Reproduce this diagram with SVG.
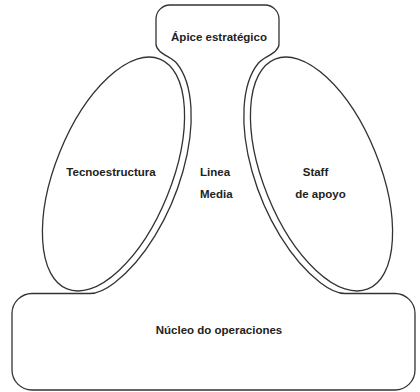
<svg xmlns="http://www.w3.org/2000/svg" width="420" height="392" viewBox="0 0 420 392">
  <style>
    .shape { fill: none; stroke: #333; stroke-width: 1.3; }
    .lbl { font-family: "Liberation Sans", Arial, sans-serif; font-weight: bold; font-size: 11.5px; fill: #222; }
    .c { text-anchor: middle; }
  </style>
  <rect width="420" height="392" fill="#fff"/>
  <g id="contorno">
    <path class="shape" d="M156,44 V19 A14,14 0 0 1 170,5 H265 A14,14 0 0 1 279,19 V44 C279,53 263.6,56.8 258.5,63 A65,131 -22 0 0 320.4,282.7 C326.8,287.6 335,293.5 345,293.5 H395 A20,20 0 0 1 415,313.5 V370 A20,20 0 0 1 395,390 H32 A20,20 0 0 1 12,370 V313.5 A20,20 0 0 1 32,293.5 H90 C100,293.5 108.2,287.6 114.6,282.7 A65,131 22 0 0 176.5,63 C171.4,56.8 156,53 156,44 Z"/>
  </g>
  <g id="apice">
    <text class="lbl c" x="219" y="41">Ápice estratégico</text>
  </g>
  <g id="tecnoestructura">
    <ellipse class="shape" cx="113.5" cy="174" rx="58" ry="124" transform="rotate(22 113.5 174)"/>
    <text class="lbl c" x="111" y="176">Tecnoestructura</text>
  </g>
  <g id="linea-media">
    <text class="lbl" x="200" y="176">Linea</text>
    <text class="lbl" x="200" y="198">Media</text>
  </g>
  <g id="staff">
    <ellipse class="shape" cx="321.5" cy="174" rx="58" ry="124" transform="rotate(-22 321.5 174)"/>
    <text class="lbl c" x="315.5" y="176">Staff</text>
    <text class="lbl c" x="320.5" y="198">de apoyo</text>
  </g>
  <g id="nucleo">
    <text class="lbl c" x="219" y="334">Núcleo do operaciones</text>
  </g>
</svg>
